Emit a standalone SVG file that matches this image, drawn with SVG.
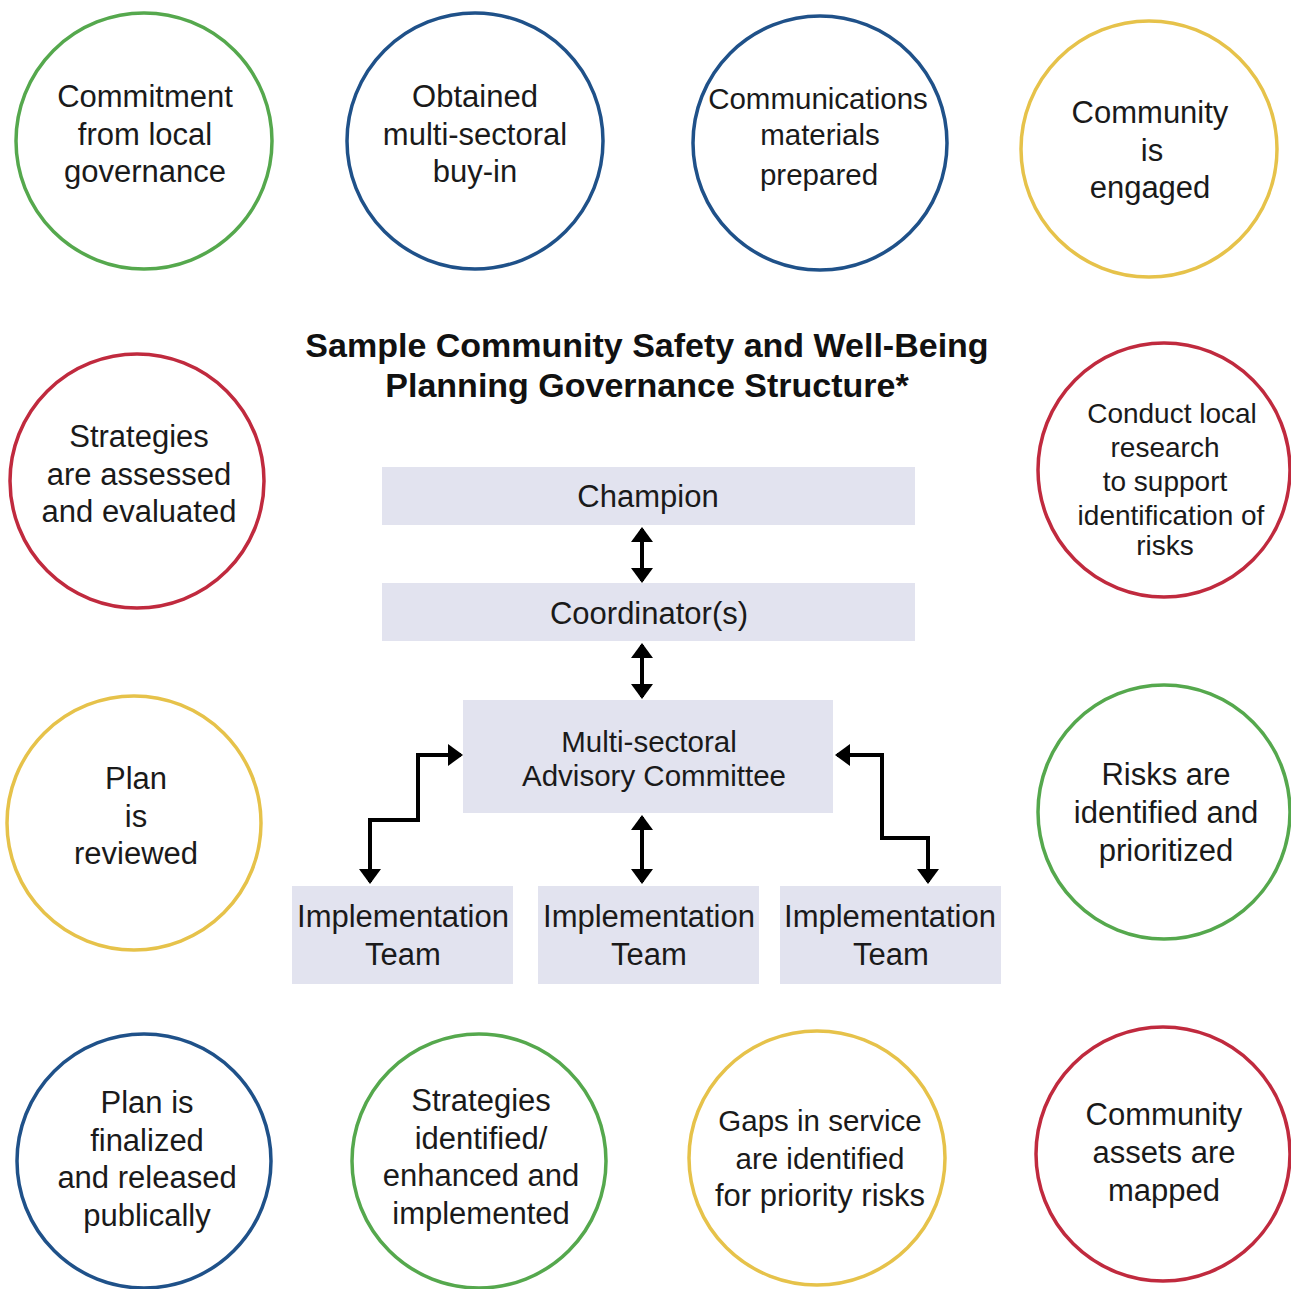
<svg xmlns="http://www.w3.org/2000/svg" width="1291" height="1289" viewBox="0 0 1291 1289">
<style>
.c{fill:#fff;stroke-width:3.5}
.g{stroke:#55a84d}.b{stroke:#1f5189}.y{stroke:#e6c24a}.r{stroke:#c02a3e}
text{font-family:"Liberation Sans",Arial,sans-serif;fill:#1a1a1a;text-anchor:middle;font-size:31px}
.t{font-weight:bold;font-size:34px;fill:#111}
.box{fill:#e2e3ef}
.ln{fill:none;stroke:#000;stroke-width:4}
</style>
<defs>
<marker id="ah" markerUnits="userSpaceOnUse" markerWidth="15" markerHeight="22" refX="13" refY="11" orient="auto-start-reverse" viewBox="0 0 15 22">
<path d="M0,0 L15,11 L0,22 z" fill="#000"/>
</marker>
</defs>
<rect width="1291" height="1289" fill="#fff"/>

<g id="circle-commitment"><ellipse class="c g" cx="144" cy="141" rx="128" ry="128"/>
<text x="145" y="107">Commitment</text><text x="145" y="145">from local</text><text x="145" y="182">governance</text></g>
<g id="circle-buyin"><ellipse class="c b" cx="475" cy="141" rx="128" ry="128"/>
<text x="475" y="107">Obtained</text><text x="475" y="145">multi-sectoral</text><text x="475" y="182">buy-in</text></g>
<g id="circle-communications"><ellipse class="c b" cx="820" cy="143" rx="127" ry="127"/>
<text x="818" y="109" style="font-size:29.5px">Communications</text><text x="820" y="145" style="font-size:29.5px">materials</text><text x="819" y="185" style="font-size:29.5px">prepared</text></g>
<g id="circle-engaged"><ellipse class="c y" cx="1149" cy="149" rx="128" ry="128"/>
<text x="1150" y="123">Community</text><text x="1152" y="161">is</text><text x="1150" y="198">engaged</text></g>

<g id="circle-assessed"><ellipse class="c r" cx="137" cy="481" rx="127" ry="127"/>
<text x="139" y="447">Strategies</text><text x="139" y="485">are assessed</text><text x="139" y="522">and evaluated</text></g>
<g id="circle-research"><ellipse class="c r" cx="1164" cy="470" rx="126" ry="127"/>
<text x="1172" y="423" style="font-size:28px">Conduct local</text><text x="1165" y="457" style="font-size:28px">research</text><text x="1165" y="491" style="font-size:28px">to support</text><text x="1171" y="525" style="font-size:28px">identification of</text><text x="1165" y="555" style="font-size:28px">risks</text></g>

<g id="circle-reviewed"><ellipse class="c y" cx="134" cy="823" rx="127" ry="127"/>
<text x="136" y="789">Plan</text><text x="136" y="827">is</text><text x="136" y="864">reviewed</text></g>
<g id="circle-risks"><ellipse class="c g" cx="1164" cy="812" rx="126" ry="127"/>
<text x="1166" y="785">Risks are</text><text x="1166" y="823">identified and</text><text x="1166" y="861">prioritized</text></g>

<g id="circle-finalized"><ellipse class="c b" cx="144" cy="1161" rx="127" ry="127"/>
<text x="147" y="1113">Plan is</text><text x="147" y="1151">finalized</text><text x="147" y="1188">and released</text><text x="147" y="1226">publically</text></g>
<g id="circle-implemented"><ellipse class="c g" cx="479" cy="1161" rx="127" ry="127"/>
<text x="481" y="1111">Strategies</text><text x="481" y="1149">identified/</text><text x="481" y="1186">enhanced and</text><text x="481" y="1224">implemented</text></g>
<g id="circle-gaps"><ellipse class="c y" cx="817" cy="1158" rx="128" ry="127"/>
<text x="820" y="1131" style="font-size:29.5px">Gaps in service</text><text x="820" y="1169" style="font-size:29.5px">are identified</text><text x="820" y="1206" style="font-size:31px">for priority risks</text></g>
<g id="circle-assets"><ellipse class="c r" cx="1163" cy="1154" rx="127" ry="127"/>
<text x="1164" y="1125">Community</text><text x="1164" y="1163">assets are</text><text x="1164" y="1201">mapped</text></g>

<g id="title">
<text class="t" x="647" y="357">Sample Community Safety and Well-Being</text>
<text class="t" x="647" y="397">Planning Governance Structure*</text>
</g>

<g id="node-champion"><rect class="box" x="382" y="467" width="533" height="58"/><text x="648" y="507">Champion</text></g>
<g id="node-coordinator"><rect class="box" x="382" y="583" width="533" height="58"/><text x="649" y="624">Coordinator(s)</text></g>
<g id="node-msac"><rect class="box" x="463" y="700" width="370" height="113"/><text x="649" y="752" style="font-size:29.5px">Multi-sectoral</text><text x="654" y="786" style="font-size:29.5px">Advisory Committee</text></g>
<g id="node-team1"><rect class="box" x="292" y="886" width="221" height="98"/><text x="403" y="927">Implementation</text><text x="403" y="965">Team</text></g>
<g id="node-team2"><rect class="box" x="538" y="886" width="221" height="98"/><text x="649" y="927">Implementation</text><text x="649" y="965">Team</text></g>
<g id="node-team3"><rect class="box" x="780" y="886" width="221" height="98"/><text x="890" y="927">Implementation</text><text x="891" y="965">Team</text></g>

<g id="connectors">
<path class="ln" d="M642,529 L642,581" marker-start="url(#ah)" marker-end="url(#ah)"/>
<path class="ln" d="M642,645 L642,697" marker-start="url(#ah)" marker-end="url(#ah)"/>
<path class="ln" d="M642,817 L642,882" marker-start="url(#ah)" marker-end="url(#ah)"/>
<path class="ln" d="M461,755 L418,755 L418,820 L370,820 L370,882" marker-start="url(#ah)" marker-end="url(#ah)"/>
<path class="ln" d="M837,755 L882,755 L882,838 L928,838 L928,882" marker-start="url(#ah)" marker-end="url(#ah)"/>
</g>
</svg>
